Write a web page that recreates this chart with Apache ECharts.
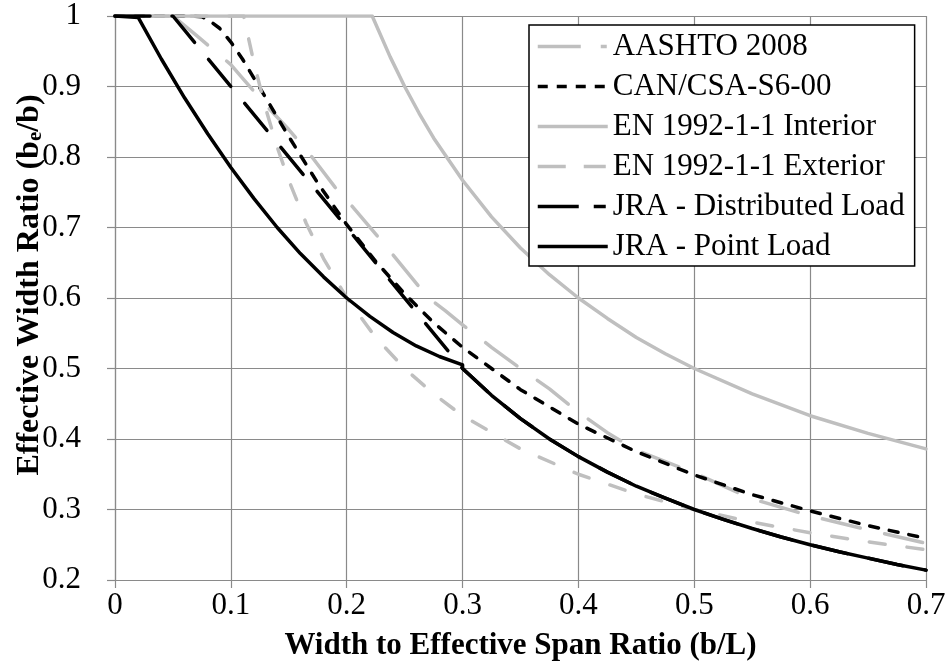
<!DOCTYPE html>
<html>
<head>
<meta charset="utf-8">
<script src="https://cdn.jsdelivr.net/npm/echarts@6/dist/echarts.min.js"></script>
<style>
html,body{margin:0;padding:0;background:#fff;}
#chart{width:947px;height:665px;}
</style>
</head>
<body>
<div id="chart"></div>
<script>
// ---- Data ----
const seriesNames = ['AASHTO 2008', 'CAN/CSA-S6-00', 'EN 1992-1-1 Interior', 'EN 1992-1-1 Exterior', 'JRA - Distributed Load', 'JRA - Point Load'];

const aashtoX = [0, 0.05, 0.07, 0.1, 0.11, 0.13, 0.15, 0.17, 0.19, 0.2, 0.23, 0.25, 0.27, 0.285, 0.3, 0.325, 0.35, 0.375, 0.4, 0.425, 0.45, 0.5, 0.55, 0.6, 0.65, 0.7];
const aashtoY = [1, 1, 0.973, 0.931, 0.912, 0.874, 0.839, 0.800, 0.757, 0.739, 0.681, 0.641, 0.601, 0.582, 0.562, 0.530, 0.500, 0.471, 0.438, 0.409, 0.384, 0.352, 0.315, 0.291, 0.271, 0.252];

const csaX = [0, 0.0667, 0.075, 0.08, 0.09, 0.1, 0.11, 0.125, 0.15, 0.175, 0.2, 0.225, 0.25, 0.275, 0.3, 0.35, 0.4, 0.45, 0.5, 0.55, 0.6, 0.65, 0.7];
const csaY = [1, 1, 0.999, 0.995, 0.983, 0.963, 0.939, 0.898, 0.829, 0.763, 0.704, 0.652, 0.606, 0.565, 0.530, 0.470, 0.421, 0.382, 0.349, 0.321, 0.298, 0.277, 0.259];

const enIntX = [0, 0.222, 0.2375, 0.25, 0.2625, 0.275, 0.3, 0.325, 0.35, 0.375, 0.4, 0.425, 0.45, 0.475, 0.5, 0.55, 0.6, 0.65, 0.7];
const enIntY = [1, 1, 0.942, 0.900, 0.862, 0.827, 0.767, 0.715, 0.671, 0.633, 0.600, 0.571, 0.544, 0.521, 0.500, 0.464, 0.433, 0.408, 0.386];

const enExtX = [0, 0.111, 0.12, 0.13, 0.14, 0.15, 0.165, 0.18, 0.2, 0.225, 0.25, 0.275, 0.3, 0.35, 0.4, 0.45, 0.5, 0.55, 0.6, 0.65, 0.7];
const enExtY = [1, 1, 0.933, 0.869, 0.814, 0.767, 0.706, 0.656, 0.600, 0.544, 0.500, 0.464, 0.433, 0.386, 0.350, 0.322, 0.300, 0.282, 0.267, 0.254, 0.243];

const jraDistX = [0, 0.05, 0.3, 0.325, 0.35, 0.375, 0.4, 0.425, 0.45, 0.475, 0.5, 0.525, 0.55, 0.575, 0.6, 0.625, 0.65, 0.675, 0.7];
const jraDistY = [1, 1, 0.500, 0.462, 0.429, 0.400, 0.375, 0.353, 0.333, 0.316, 0.300, 0.286, 0.273, 0.261, 0.250, 0.240, 0.231, 0.222, 0.214];

const jraPointX = [0, 0.02, 0.04, 0.06, 0.08, 0.1, 0.12, 0.14, 0.16, 0.18, 0.2, 0.22, 0.24, 0.26, 0.28, 0.3, 0.3, 0.325, 0.35, 0.375, 0.4, 0.425, 0.45, 0.475, 0.5, 0.525, 0.55, 0.575, 0.6, 0.625, 0.65, 0.675, 0.7];
const jraPointY = [1, 0.998, 0.939, 0.884, 0.833, 0.785, 0.741, 0.700, 0.663, 0.630, 0.600, 0.574, 0.551, 0.532, 0.517, 0.505, 0.500, 0.462, 0.429, 0.400, 0.375, 0.353, 0.333, 0.316, 0.300, 0.286, 0.273, 0.261, 0.250, 0.240, 0.231, 0.222, 0.214];

const xTicks = [0, 0.1, 0.2, 0.3, 0.4, 0.5, 0.6, 0.7];
const yTicks = [0.2, 0.3, 0.4, 0.5, 0.6, 0.7, 0.8, 0.9, 1];

// ---- Build ----
const FONT = "'Liberation Serif', 'Times New Roman', serif";
const GRAY = '#bfbfbf';
const GRID = '#8a8a8a';
function pairs(xs, ys) { return xs.map((x, i) => [x, ys[i]]); }

const styles = [
  { color: GRAY, type: [39, 25], legendType: [43, 20, 6, 100] },
  { color: '#000', type: [9, 11], legendType: [10, 9] },
  { color: GRAY, type: 'solid', legendType: 'solid' },
  { color: GRAY, type: [16, 22], legendType: [28, 18, 22, 100] },
  { color: '#000', type: [35, 22], legendType: [41, 15, 12, 100] },
  { color: '#000', type: 'solid', legendType: 'solid' }
];
const datasets = [
  pairs(aashtoX, aashtoY), pairs(csaX, csaY), pairs(enIntX, enIntY),
  pairs(enExtX, enExtY), pairs(jraDistX, jraDistY), pairs(jraPointX, jraPointY)
];

const series = seriesNames.map((name, i) => ({
  name: name,
  type: 'line',
  data: datasets[i],
  symbol: 'none',
  showSymbol: false,
  smooth: false,
  animation: false,
  lineStyle: { color: styles[i].color, width: 3.5, type: styles[i].type, cap: 'round', join: 'round' },
  itemStyle: { color: styles[i].color }
}));

const fmt = v => String(+(+v).toFixed(1));

const option = {
  animation: false,
  backgroundColor: '#fff',
  textStyle: { fontFamily: FONT },
  grid: { left: 115, right: 21, top: 16, bottom: 85, containLabel: false, outerBoundsMode: 'none' },
  xAxis: {
    type: 'value', min: xTicks[0], max: xTicks[xTicks.length - 1], interval: 0.1,
    axisLine: { show: true, lineStyle: { color: GRID, width: 1.2 } },
    axisTick: { show: true, inside: false, length: 8, lineStyle: { color: GRID, width: 1.2 } },
    splitLine: { show: true, lineStyle: { color: GRID, width: 1.2 } },
    axisLabel: { formatter: fmt, fontFamily: FONT, fontSize: 31, color: '#000', margin: 10 },
    name: 'Width to Effective Span Ratio (b/L)',
    nameLocation: 'middle', nameGap: 50, nameMoveOverlap: false,
    nameTextStyle: { fontFamily: FONT, fontSize: 31, fontWeight: 'bold', color: '#000' }
  },
  yAxis: {
    type: 'value', min: yTicks[0], max: yTicks[yTicks.length - 1], interval: 0.1,
    axisLine: { show: true, lineStyle: { color: GRID, width: 1.2 } },
    axisTick: { show: true, inside: false, length: 8, lineStyle: { color: GRID, width: 1.2 } },
    splitLine: { show: true, lineStyle: { color: GRID, width: 1.2 } },
    axisLabel: { formatter: fmt, fontFamily: FONT, fontSize: 31, color: '#000', margin: 34 },
    name: 'Effective Width Ratio (b{s|e}/b)',
    nameLocation: 'middle', nameGap: 69, nameMoveOverlap: false,
    nameTextStyle: {
      fontFamily: FONT, fontSize: 32, fontWeight: 'bold', color: '#000',
      padding: [0, 0, 0, 26],
      rich: { s: { fontFamily: FONT, fontSize: 21, fontWeight: 'bold', color: '#000', lineHeight: 12, verticalAlign: 'bottom' } }
    }
  },
  legend: {
    orient: 'vertical', left: 529, top: 25,
    itemWidth: 70, itemHeight: 14, itemGap: 9,
    padding: [6, 10, 4, 7],
    borderColor: '#000', borderWidth: 1.5, backgroundColor: '#fff',
    selectedMode: false,
    textStyle: { fontFamily: FONT, fontSize: 31, lineHeight: 31, color: '#000' },
    data: seriesNames.map((n, i) => ({
      name: n,
      itemStyle: { color: 'rgba(0,0,0,0)', borderWidth: 0, opacity: 0 },
      lineStyle: { type: styles[i].legendType, width: 3.5, color: styles[i].color, cap: 'butt', opacity: 1 }
    }))
  },
  series: series
};

const chart = echarts.init(document.getElementById('chart'), null, { renderer: 'canvas' });
chart.setOption(option);
</script>
</body>
</html>
